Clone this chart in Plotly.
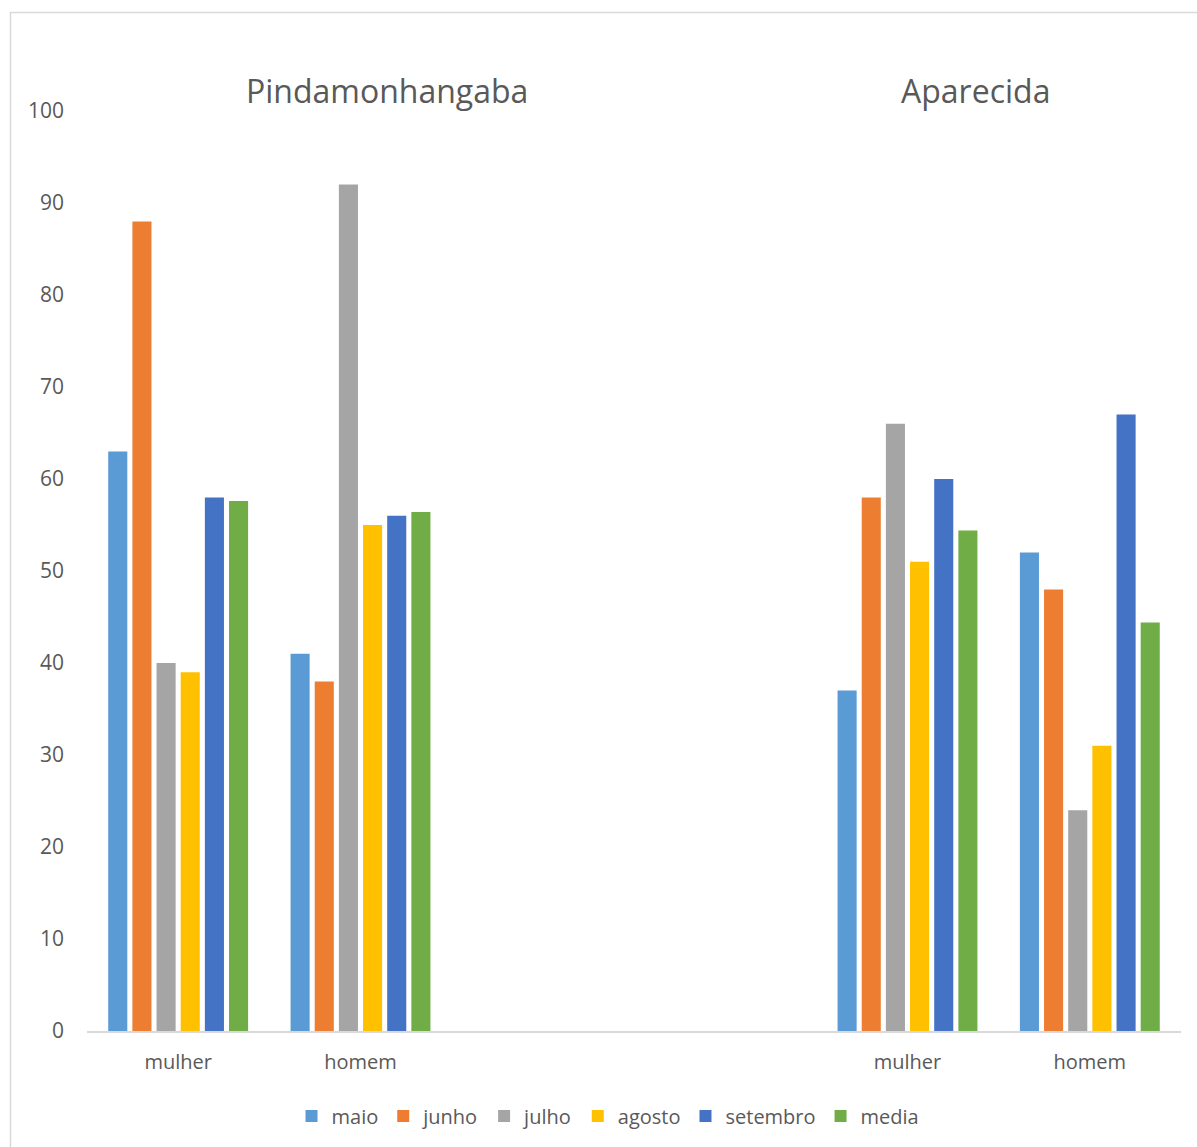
import plotly.graph_objects as go

# Category slots: two city groups with an empty gap between them
slot_labels = ["mulher", "homem", "", "", "mulher", "homem"]
slot_pos = [0, 1, 4, 5]  # positions that hold data

months = ["maio", "junho", "julho", "agosto", "setembro", "media"]
colors = ["#5B9BD5", "#ED7D31", "#A5A5A5", "#FFC000", "#4472C4", "#70AD47"]

# values per month: Pinda mulher, Pinda homem, Aparecida mulher, Aparecida homem
maio = [63, 41, 37, 52]
junho = [88, 38, 58, 48]
julho = [40, 92, 66, 24]
agosto = [39, 55, 51, 31]
setembro = [58, 56, 60, 67]
media = [57.6, 56.4, 54.4, 44.4]

series = [maio, junho, julho, agosto, setembro, media]

W, H = 1197, 1147
ml, mr, mt, mb = 87, 16, 111, 116

fig = go.Figure()
for name, vals, col in zip(months, series, colors):
    fig.add_trace(go.Bar(
        x=slot_pos, y=vals, name=name,
        marker=dict(color=col, line=dict(width=0)),
    ))

font_family = "Open Sans, Liberation Sans, sans-serif"
grey = "#595959"
pw, ph = W - ml - mr, H - mt - mb

fig.update_layout(
    width=W, height=H,
    margin=dict(l=ml, r=mr, t=mt, b=mb),
    paper_bgcolor="white", plot_bgcolor="white",
    barmode="group", bargap=0.205, bargroupgap=0.21,
    font=dict(family=font_family, color=grey, size=20),
    showlegend=True,
    legend=dict(
        orientation="h", x=0.5 - 26 / pw, xanchor="center",
        y=-(1116 - 1031) / ph, yanchor="middle",
        font=dict(size=20, color=grey),
        itemwidth=30, traceorder="normal",
    ),
    xaxis=dict(
        range=[-0.5, 5.5],
        tickmode="array", tickvals=list(range(6)), ticktext=slot_labels,
        showgrid=False, zeroline=False,
        showline=True, linecolor="#D9D9D9", linewidth=1.5,
        ticks="", ticklabelstandoff=12,
        tickfont=dict(size=20, color=grey),
        fixedrange=True,
    ),
    yaxis=dict(
        range=[0, 100], tickmode="array", tickvals=list(range(0, 101, 10)),
        showgrid=False, zeroline=False, showline=False, ticks="",
        ticklabelstandoff=22,
        tickfont=dict(size=21, color=grey),
        fixedrange=True,
    ),
)

# City titles above each group
fig.add_annotation(text="Pindamonhangaba", xref="paper", yref="paper",
                   x=(387 - ml) / pw, y=1 + (111 - 91) / ph,
                   showarrow=False, xanchor="center", yanchor="middle",
                   font=dict(size=32, color=grey, family=font_family))
fig.add_annotation(text="Aparecida", xref="paper", yref="paper",
                   x=(975 - ml) / pw, y=1 + (111 - 91) / ph,
                   showarrow=False, xanchor="center", yanchor="middle",
                   font=dict(size=32, color=grey, family=font_family))

# Chart-area border (left and top edges visible)
fig.add_shape(type="rect", xref="paper", yref="paper",
              x0=(10.5 - ml) / pw, x1=(W + 5 - ml) / pw,
              y0=-(H + 5 - (H - mb)) / ph, y1=1 + (mt - 12.5) / ph,
              line=dict(color="#D9D9D9", width=1.5), fillcolor="rgba(0,0,0,0)",
              layer="below")

fig.write_html("out.html")
